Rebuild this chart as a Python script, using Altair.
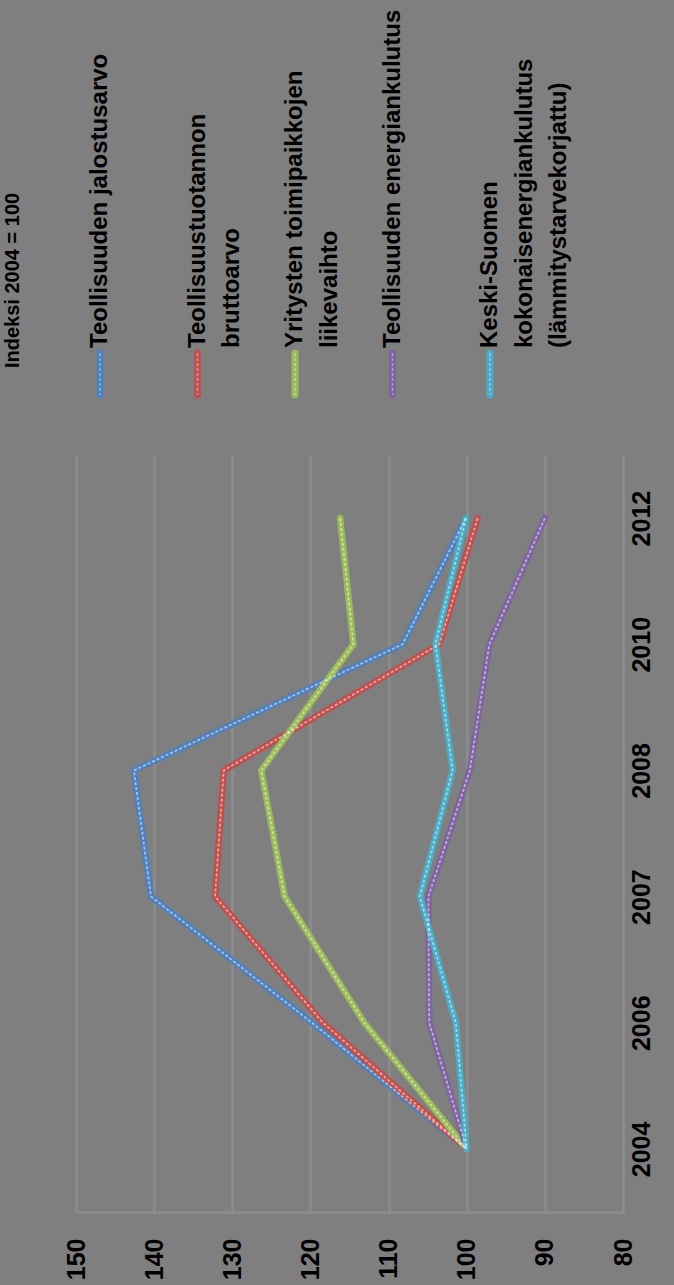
import altair as alt
import pandas as pd

years = ["2004", "2006", "2007", "2008", "2010", "2012"]
series = [
    "Teollisuuden jalostusarvo",
    "Teollisuustuotannon bruttoarvo",
    "Yritysten toimipaikkojen liikevaihto",
    "Teollisuuden energiankulutus",
    "Keski-Suomen kokonaisenergiankulutus",
]
legend_labels = [
    "Teollisuuden jalostusarvo",
    "Teollisuustuotannon\nbruttoarvo",
    "Yritysten toimipaikkojen\nliikevaihto",
    "Teollisuuden energiankulutus",
    "Keski-Suomen\nkokonaisenergiankulutus\n(lämmitystarvekorjattu)",
]
jalostusarvo = [100, 119.8, 140.4, 142.6, 108.2, 100.1]
bruttoarvo = [100, 118.4, 132.2, 131.1, 103.5, 98.6]
liikevaihto = [100, 113.1, 123.3, 126.3, 114.5, 116.2]
energiankulutus = [100, 104.8, 104.9, 99.6, 97.1, 90.0]
ks_energiankulutus = [100, 101.4, 106.0, 101.8, 104.0, 100.1]
colors = ["#4F81BD", "#C0504D", "#9BBB59", "#8064A2", "#4BACC6"]
value_ticks = [80, 90, 100, 110, 120, 130, 140, 150]
title_text = "Indeksi 2004 = 100"

values_by_series = [jalostusarvo, bruttoarvo, liikevaihto, energiankulutus, ks_energiankulutus]
rows = []
for s, vals in zip(series, values_by_series):
    for y, v in zip(years, vals):
        rows.append({"series": s, "year": y, "value": v})
df = pd.DataFrame(rows)
legend_df = pd.DataFrame({"series": series, "label": legend_labels})
title_df = pd.DataFrame({"t": [title_text]})

FONT = "Liberation Sans"
color = alt.Color("series:N", scale=alt.Scale(domain=series, range=colors), legend=None)

x_scale = alt.Scale(domain=[80, 150], reverse=True, nice=False, zero=False)
y_axis = alt.Axis(
    orient="right", title=None, labelAngle=270, labelAlign="center",
    labelBaseline="top", labelPadding=6, ticks=False, grid=False,
)
y_enc = alt.Y(
    "year:O",
    sort=list(reversed(years)),
    scale=alt.Scale(type="point", padding=0.5),
    axis=y_axis,
)
x_enc = alt.X(
    "value:Q",
    scale=x_scale,
    axis=alt.Axis(
        values=value_ticks, title=None, labelAngle=270, labelAlign="right",
        labelBaseline="middle", labelPadding=26, ticks=False, grid=True,
    ),
)

base = alt.Chart(df)
lines = base.mark_line(strokeWidth=6.5, strokeCap="round", strokeJoin="round").encode(
    x=x_enc, y=y_enc, color=color, order=alt.Order("year:O")
)
lines_hi = base.mark_line(
    strokeWidth=1.8, strokeDash=[3, 2], color="white", opacity=0.5
).encode(
    x=alt.X("value:Q", scale=x_scale, axis=None),
    y=y_enc,
    detail="series:N",
)

leg_x = alt.X("series:N", scale=alt.Scale(type="point", domain=series, range=[24, 414], padding=0), axis=None)
leg = alt.Chart(legend_df)
leg_marker = leg.mark_rule(strokeWidth=7, strokeCap="round").encode(
    x=leg_x, y=alt.value(-102), y2=alt.value(-60), color=color
)
leg_marker_hi = leg.mark_rule(strokeWidth=1.5, strokeDash=[3, 2], color="white", opacity=0.4).encode(
    x=leg_x, y=alt.value(-102), y2=alt.value(-60)
)
leg_text = leg.mark_text(
    angle=270, align="left", baseline="top", dy=-12, lineBreak="\n", lineHeight=34.5,
    font=FONT, fontSize=24, fontWeight="bold", color="black",
).encode(x=leg_x, y=alt.value(-107), text="label:N")

title = alt.Chart(title_df).mark_text(
    angle=270, align="left", baseline="middle", font=FONT, fontSize=20,
    fontWeight="bold", color="black",
).encode(x=alt.value(-63), y=alt.value(-87), text="t:N")

chart = (
    alt.layer(lines, lines_hi, leg_marker, leg_marker_hi, leg_text, title)
    .resolve_scale(x="independent")
    .properties(
        width=547, height=757,
        autosize=alt.AutoSizeParams(type="none"),
        padding={"left": 76, "top": 455, "right": 51, "bottom": 73},
        background="#7f7f7f",
    )
    .configure_view(stroke=None)
    .configure_axis(
        gridColor="#8b8b8b", gridWidth=3, domainColor="#8b8b8b", domainWidth=3,
        labelColor="black", labelFont=FONT, labelFontWeight="bold", labelFontSize=25,
    )
)

chart.save("out.html", embed_options={"renderer": "svg", "actions": False})
